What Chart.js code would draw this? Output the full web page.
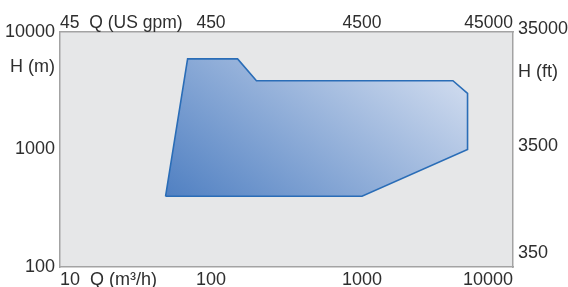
<!DOCTYPE html>
<html>
<head>
<meta charset="utf-8">
<script src="https://cdn.jsdelivr.net/npm/chart.js@4/dist/chart.umd.min.js"></script>
<style>
  html, body { margin: 0; padding: 0; background: #fff; }
  #wrap { width: 568px; height: 287px; }
</style>
</head>
<body>
<div id="wrap"><canvas id="rangeChart"></canvas></div>
<script>
// ── Data ──────────────────────────────────────────────────────
// operating range outline, Q in m³/h, H in m (closed polygon)
const qData = [50, 70, 150, 200, 4000, 5000, 5000, 1000, 50];
const hData = [400, 5900, 5900, 3850, 3850, 3000, 1000, 400, 400];

// axis ticks
const qTicks      = [10, 100, 1000, 10000];
const qLabels     = ['10  Q (m³/h)', '100', '1000', '10000'];
const gpmLabels   = ['45  Q (US gpm)', '450', '4500', '45000'];
const hTicks      = [100, 1000, 5000, 10000];
const hLabels     = ['100', '1000', 'H (m)', '10000'];
const ftTicks     = [350, 3500, 15000, 35000];
const ftLabels    = ['350', '3500', 'H (ft)', '35000'];

const FT_PER_M = 3.28084;
const H_MIN = 100, H_MAX = 10000;
const Q_MIN = 10,  Q_MAX = 10000;

// ── Helpers ───────────────────────────────────────────────────
function fixedTicks(values) {
    return s => { s.ticks = values.map(v => ({ value: v })); };
}

// fixed box size, no extra margins from overhanging labels
function fixedBox(dim, px) {
    return s => {
        s[dim] = px;
        s.paddingTop = s.paddingBottom = s.paddingLeft = s.paddingRight = 0;
    };
}

const areaBg = {
    id: 'areaBg',
    beforeDraw(chart) {
        const a = chart.chartArea, ctx = chart.ctx;
        ctx.save();
        ctx.fillStyle = '#e6e7e8';
        ctx.fillRect(a.left, a.top, a.right - a.left, a.bottom - a.top);
        ctx.restore();
    }
};

function rangeFill(c) {
    const chart = c.chart;
    if (!chart.chartArea) return 'rgba(85,128,194,0.8)';
    const x0 = chart.scales.x.getPixelForValue(Math.min(...qData));
    const y0 = chart.scales.y.getPixelForValue(Math.min(...hData));
    const g = chart.ctx.createLinearGradient(x0, y0, x0 + 178, y0 - 233);
    g.addColorStop(0, '#5080c2');
    g.addColorStop(1, '#d9e2f2');
    return g;
}

const border = { display: true, color: '#a3a3a3', width: 1.5 };
const noGrid = { display: false, drawTicks: false };

Chart.defaults.font.family = '"Liberation Sans", Arial, sans-serif';
Chart.defaults.font.size = 18;
Chart.defaults.color = '#2e2e2e';

// ── Chart ─────────────────────────────────────────────────────
new Chart(document.getElementById('rangeChart'), {
    type: 'scatter',
    data: {
        datasets: [{
            data: qData.map((q, i) => ({ x: q, y: hData[i] })),
            showLine: true,
            fill: 'shape',
            tension: 0,
            borderColor: '#2a6db7',
            borderWidth: 1.6,
            backgroundColor: rangeFill,
            pointRadius: 0
        }]
    },
    options: {
        responsive: true,
        maintainAspectRatio: false,
        animation: false,
        layout: { padding: 0 },
        plugins: { legend: { display: false }, tooltip: { enabled: false } },
        scales: {
            x: {
                type: 'logarithmic', position: 'bottom', min: Q_MIN, max: Q_MAX,
                grid: noGrid, border,
                afterBuildTicks: fixedTicks(qTicks),
                afterFit: fixedBox('height', 20),
                ticks: { autoSkip: false, maxRotation: 0, align: 'inner', padding: 2,
                         callback: (v, i) => qLabels[i] }
            },
            x2: {
                type: 'logarithmic', position: 'top', min: Q_MIN, max: Q_MAX,
                grid: noGrid, border,
                afterBuildTicks: fixedTicks(qTicks),
                afterFit: fixedBox('height', 32),
                ticks: { autoSkip: false, maxRotation: 0, align: 'inner', padding: -2,
                         font: { size: 17.5 },
                         callback: (v, i) => gpmLabels[i] }
            },
            y: {
                type: 'logarithmic', position: 'left', min: H_MIN, max: H_MAX,
                grid: noGrid, border,
                afterBuildTicks: fixedTicks(hTicks),
                afterFit: fixedBox('width', 60),
                ticks: { autoSkip: false, padding: 5, callback: (v, i) => hLabels[i] }
            },
            y2: {
                type: 'logarithmic', position: 'right',
                min: H_MIN * FT_PER_M, max: H_MAX * FT_PER_M,
                grid: noGrid, border,
                afterBuildTicks: fixedTicks(ftTicks),
                afterFit: fixedBox('width', 55),
                ticks: { autoSkip: false, padding: 5,
                         callback: (v, i) => i === 0 ? [ftLabels[i], ''] : ftLabels[i] }
            }
        }
    },
    plugins: [areaBg]
});
</script>
</body>
</html>
